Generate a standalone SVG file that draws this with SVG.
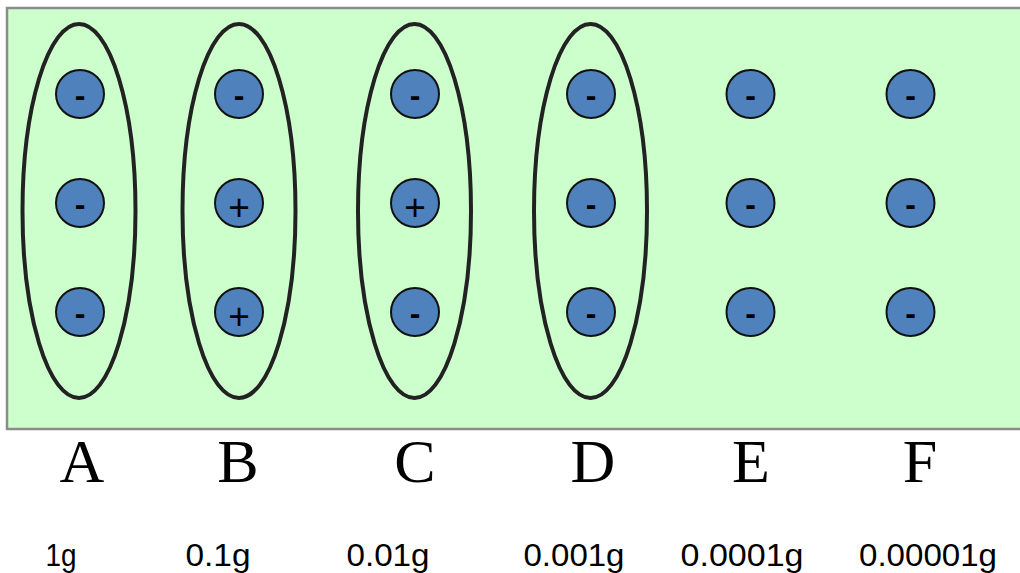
<svg xmlns="http://www.w3.org/2000/svg" width="1020" height="573" viewBox="0 0 1020 573">
<style>
.bg{fill:#ccffcc;stroke:#8c8c8c;stroke-width:2.5}
.grp{fill:none;stroke:#222;stroke-width:4}
.ion{fill:#4f81bd;stroke:#111;stroke-width:2}
.sign{font-family:"Liberation Sans",Arial,sans-serif;font-size:32px;fill:#000;text-anchor:middle;font-weight:bold}
.plus{font-family:"Liberation Sans",Arial,sans-serif;font-size:37px;fill:#000;text-anchor:middle}
.let{font-family:"Liberation Serif","Times New Roman",serif;font-size:62px;fill:#000;text-anchor:middle}
.wt{font-family:"Liberation Sans",Arial,sans-serif;font-size:31px;fill:#000;text-anchor:middle}
</style>
<rect class="bg" x="7" y="8" width="1020" height="421"/>
<g id="groups">
<ellipse class="grp" cx="79" cy="211" rx="56.5" ry="187"/>
<ellipse class="grp" cx="239" cy="211" rx="56.5" ry="187"/>
<ellipse class="grp" cx="414.5" cy="211" rx="56.5" ry="187"/>
<ellipse class="grp" cx="590.5" cy="211" rx="56.5" ry="187"/>
</g>
<g id="colA">
<circle class="ion" cx="80" cy="94" r="24"/><text class="sign" x="80" y="106">-</text>
<circle class="ion" cx="80" cy="203" r="24"/><text class="sign" x="80" y="215">-</text>
<circle class="ion" cx="80" cy="312" r="24"/><text class="sign" x="80" y="324">-</text>
<text class="let" x="82" y="482">A</text>
<text class="wt" x="61" y="566" textLength="31" lengthAdjust="spacingAndGlyphs">1g</text>
</g>
<g id="colB">
<circle class="ion" cx="239" cy="94" r="24"/><text class="sign" x="239" y="106">-</text>
<circle class="ion" cx="239" cy="203" r="24"/><text class="plus" x="239" y="220">+</text>
<circle class="ion" cx="239" cy="312" r="24"/><text class="plus" x="239" y="329">+</text>
<text class="let" x="238" y="482">B</text>
<text class="wt" x="218" y="566" textLength="65" lengthAdjust="spacingAndGlyphs">0.1g</text>
</g>
<g id="colC">
<circle class="ion" cx="415" cy="94" r="24"/><text class="sign" x="415" y="106">-</text>
<circle class="ion" cx="415" cy="203" r="24"/><text class="plus" x="415" y="220">+</text>
<circle class="ion" cx="415" cy="312" r="24"/><text class="sign" x="415" y="324">-</text>
<text class="let" x="415" y="482">C</text>
<text class="wt" x="388" y="566" textLength="83" lengthAdjust="spacingAndGlyphs">0.01g</text>
</g>
<g id="colD">
<circle class="ion" cx="591" cy="94" r="24"/><text class="sign" x="591" y="106">-</text>
<circle class="ion" cx="591" cy="203" r="24"/><text class="sign" x="591" y="215">-</text>
<circle class="ion" cx="591" cy="312" r="24"/><text class="sign" x="591" y="324">-</text>
<text class="let" x="593" y="482">D</text>
<text class="wt" x="574" y="566" textLength="101" lengthAdjust="spacingAndGlyphs">0.001g</text>
</g>
<g id="colE">
<circle class="ion" cx="750.5" cy="94" r="24"/><text class="sign" x="750.5" y="106">-</text>
<circle class="ion" cx="750.5" cy="203" r="24"/><text class="sign" x="750.5" y="215">-</text>
<circle class="ion" cx="750.5" cy="312" r="24"/><text class="sign" x="750.5" y="324">-</text>
<text class="let" x="751" y="482">E</text>
<text class="wt" x="742" y="566" textLength="123" lengthAdjust="spacingAndGlyphs">0.0001g</text>
</g>
<g id="colF">
<circle class="ion" cx="910.5" cy="94" r="24"/><text class="sign" x="910.5" y="106">-</text>
<circle class="ion" cx="910.5" cy="203" r="24"/><text class="sign" x="910.5" y="215">-</text>
<circle class="ion" cx="910.5" cy="312" r="24"/><text class="sign" x="910.5" y="324">-</text>
<text class="let" x="920" y="482">F</text>
<text class="wt" x="928" y="566" textLength="138" lengthAdjust="spacingAndGlyphs">0.00001g</text>
</g>
</svg>
